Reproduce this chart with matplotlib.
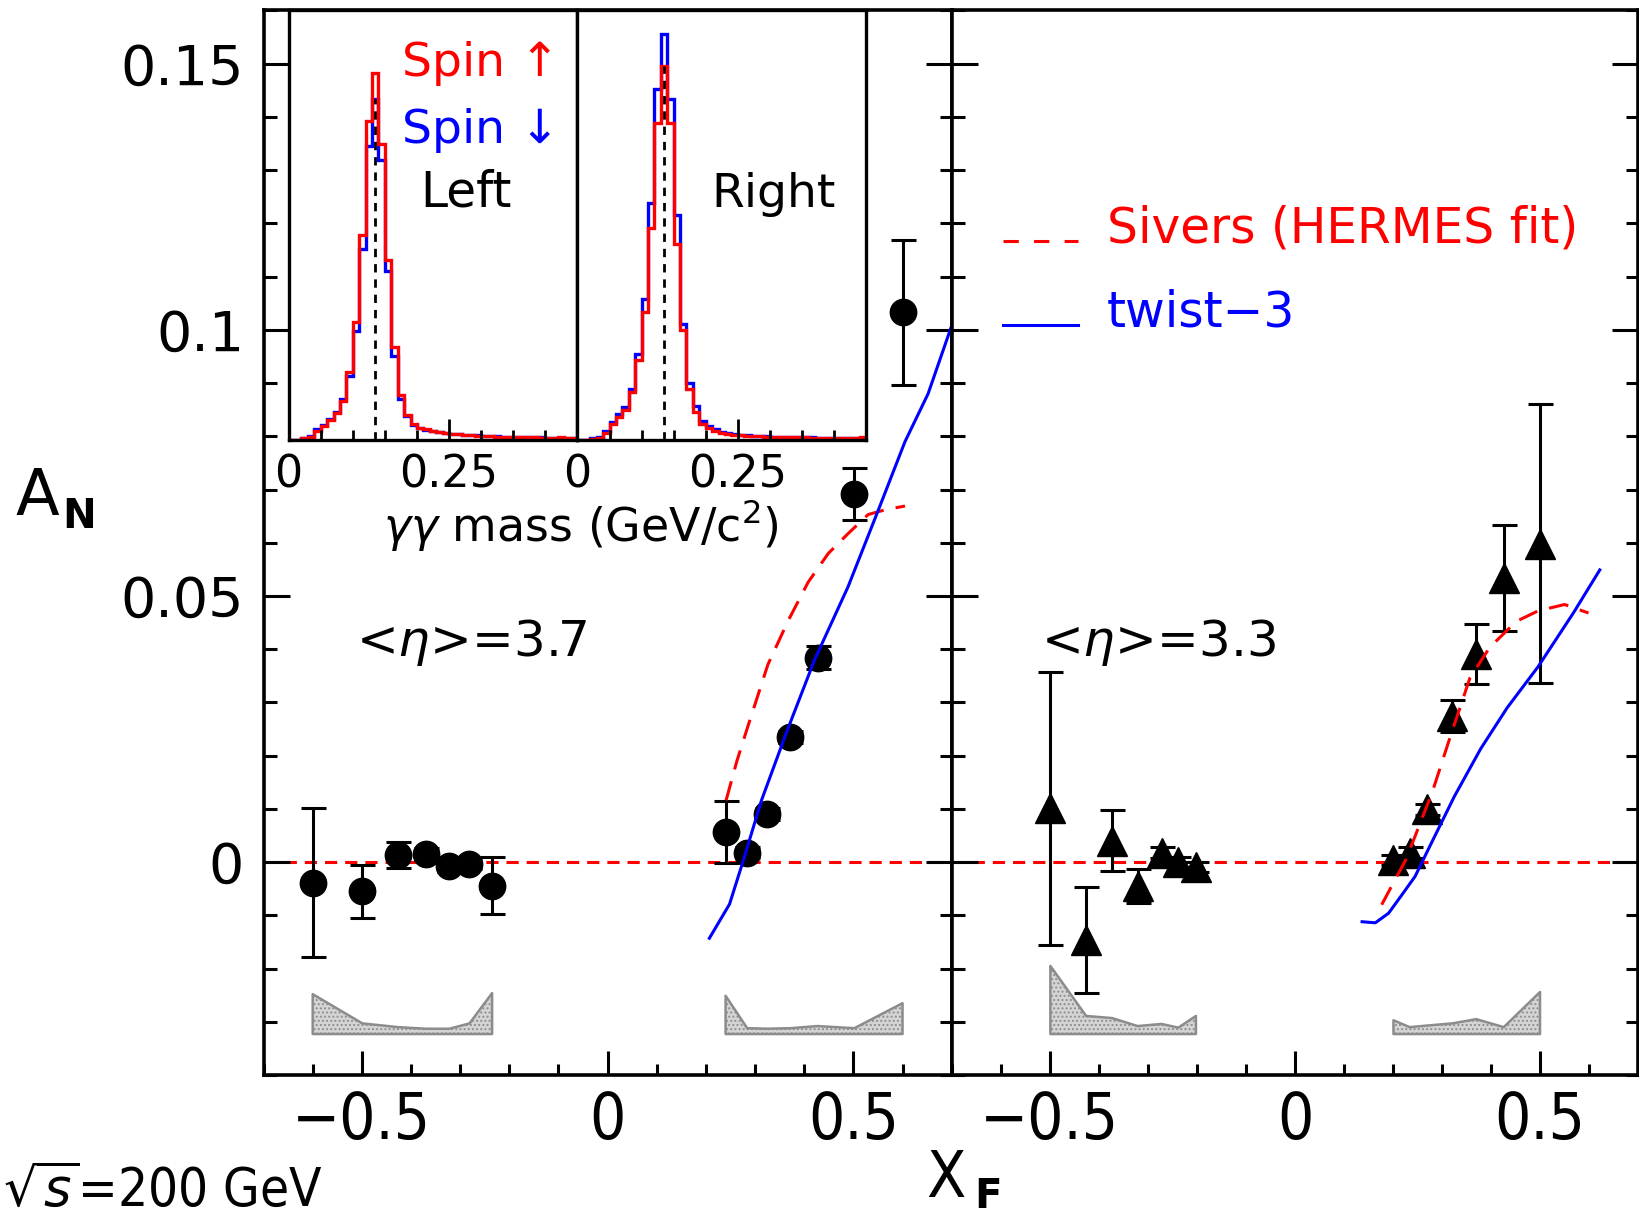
import numpy as np
import matplotlib.pyplot as plt
from matplotlib.ticker import MultipleLocator, FixedLocator
from matplotlib.legend_handler import HandlerLine2D

plt.rcParams['font.family'] = ['DejaVu Sans']
plt.rcParams['mathtext.fontset'] = 'dejavusans'
plt.rcParams['hatch.linewidth'] = 0.9
plt.rcParams['hatch.color'] = '#7f7f7f'

# ---- A_N vs x_F, <eta>=3.7 (circles)
xf_37 = [-0.600, -0.499, -0.426, -0.370, -0.322, -0.281, -0.235,
         0.240, 0.284, 0.325, 0.372, 0.427, 0.502, 0.600]
an_37 = [-0.0039, -0.0055, 0.0013, 0.0015, -0.0008, -0.0003, -0.0044,
         0.0056, 0.0018, 0.0090, 0.0235, 0.0384, 0.0691, 0.1033]
err_37 = [0.0140, 0.0050, 0.0024, 0.0011, 0.0010, 0.0010, 0.0054,
          0.0058, 0.0011, 0.0011, 0.0012, 0.0022, 0.0049, 0.0136]
syst_37 = [0.0075, 0.0020, 0.0013, 0.0010, 0.0010, 0.0020, 0.0077,
           0.0072, 0.0011, 0.0010, 0.0011, 0.0015, 0.0011, 0.0058]

# ---- A_N vs x_F, <eta>=3.3 (triangles)
xf_33 = [-0.499, -0.426, -0.373, -0.321, -0.272, -0.238, -0.202,
         0.201, 0.234, 0.270, 0.321, 0.370, 0.426, 0.500]
an_33 = [0.0101, -0.0146, 0.0040, -0.0045, 0.0018, 0.0000, -0.0009,
         0.0004, 0.0018, 0.0099, 0.0274, 0.0391, 0.0534, 0.0598]
err_33 = [0.0256, 0.0099, 0.0057, 0.0032, 0.0010, 0.0010, 0.0010,
          0.0010, 0.0010, 0.0010, 0.0030, 0.0057, 0.0100, 0.0262]
syst_33 = [0.0128, 0.0034, 0.0030, 0.0015, 0.0019, 0.0012, 0.0034,
           0.0026, 0.0013, 0.0016, 0.0020, 0.0028, 0.0013, 0.0079]
syst_base = -0.0323

# ---- theory curves
sivers_x_37 = [0.241, 0.263, 0.286, 0.326, 0.367, 0.408, 0.449, 0.489, 0.530, 0.565, 0.605]
sivers_y_37 = [0.0116, 0.0190, 0.0257, 0.0371, 0.0453, 0.0526, 0.0580, 0.0617, 0.0653, 0.0662, 0.0669]
twist_x_37 = [0.207, 0.248, 0.275, 0.313, 0.364, 0.421, 0.489, 0.551, 0.605, 0.652, 0.700]
twist_y_37 = [-0.0143, -0.0079, 0.0000, 0.0116, 0.0244, 0.0380, 0.0517, 0.0662, 0.0790, 0.0880, 0.1008]
sivers_x_33 = [0.177, 0.227, 0.280, 0.316, 0.357, 0.397, 0.451, 0.496, 0.550, 0.599]
sivers_y_33 = [-0.0080, 0.0006, 0.0131, 0.0233, 0.0346, 0.0403, 0.0452, 0.0472, 0.0484, 0.0468]
twist_x_33 = [0.137, 0.164, 0.191, 0.217, 0.245, 0.271, 0.325, 0.379, 0.433, 0.496, 0.568, 0.622]
twist_y_33 = [-0.0112, -0.0114, -0.0096, -0.0063, -0.0027, 0.0022, 0.0123, 0.0213, 0.0290, 0.0367, 0.0468, 0.0549]

# ---- inset: gamma-gamma mass histograms (arbitrary units), 0.01 GeV bins
mass_edges = np.linspace(0.0, 0.45, 46)
pi0_mass = 0.135
left_up = [0, 0, 0.004, 0.008, 0.021, 0.033, 0.046, 0.062, 0.091, 0.158,
           0.274, 0.477, 0.743, 0.855, 0.689, 0.419, 0.216, 0.104, 0.058, 0.037,
           0.029, 0.025, 0.021, 0.018, 0.016, 0.014, 0.013, 0.012, 0.011, 0.010,
           0.009, 0.009, 0.008, 0.008, 0.007, 0.007, 0.006, 0.006, 0.006, 0.005,
           0.005, 0.005, 0.006, 0.004, 0.004]
left_down = [0, 0, 0.005, 0.010, 0.025, 0.035, 0.048, 0.065, 0.095, 0.150,
             0.253, 0.444, 0.685, 0.793, 0.651, 0.394, 0.195, 0.095, 0.055, 0.035,
             0.028, 0.024, 0.021, 0.019, 0.017, 0.015, 0.014, 0.012, 0.011, 0.011,
             0.010, 0.009, 0.009, 0.008, 0.007, 0.007, 0.007, 0.006, 0.006, 0.006,
             0.005, 0.005, 0.005, 0.005, 0.004]
right_up = [0, 0, 0.002, 0.005, 0.017, 0.037, 0.054, 0.071, 0.112, 0.187,
            0.299, 0.494, 0.739, 0.871, 0.739, 0.456, 0.257, 0.120, 0.066, 0.037,
            0.029, 0.021, 0.017, 0.014, 0.012, 0.011, 0.010, 0.009, 0.009, 0.008,
            0.008, 0.007, 0.007, 0.006, 0.006, 0.006, 0.005, 0.005, 0.005, 0.005,
            0.004, 0.004, 0.004, 0.005, 0.006]
right_down = [0, 0, 0.004, 0.008, 0.022, 0.042, 0.060, 0.078, 0.120, 0.200,
              0.328, 0.552, 0.817, 0.946, 0.793, 0.523, 0.270, 0.133, 0.079, 0.045,
              0.033, 0.025, 0.019, 0.016, 0.014, 0.012, 0.011, 0.010, 0.009, 0.009,
              0.008, 0.008, 0.007, 0.007, 0.006, 0.006, 0.006, 0.005, 0.005, 0.005,
              0.005, 0.005, 0.004, 0.004, 0.004]

xticks_main = [-0.5, 0, 0.5]
xticklabels_main = ['\u22120.5', '0', '0.5']
yticks_main = [0, 0.05, 0.1, 0.15]
yticklabels_main = ['0', '0.05', '0.1', '0.15']


class BaselineHandler(HandlerLine2D):
    # put the legend key on the text baseline, ROOT style
    def create_artists(self, legend, orig_handle, xdescent, ydescent,
                       width, height, fontsize, trans):
        arts = super().create_artists(legend, orig_handle, xdescent, ydescent,
                                      width, height, fontsize, trans)
        for a in arts:
            a.set_ydata(np.asarray(a.get_ydata()) - 0.33 * fontsize)
        return arts


fig = plt.figure(figsize=(16.4, 12.19), dpi=100)
ax1 = fig.add_axes([0.1607, 0.1181, 0.4196, 0.8733])
ax2 = fig.add_axes([0.5804, 0.1181, 0.4184, 0.8733])

sivers_dash = (0, (6.5, 4))
for ax in (ax1, ax2):
    ax.set_xlim(-0.7, 0.7)
    ax.set_ylim(-0.04, 0.16)
    ax.axhline(0, color='red', lw=2.2, ls=(0, (4, 2.6)), zorder=1)
    for s in ax.spines.values():
        s.set_linewidth(2.6)
    ax.xaxis.set_major_locator(FixedLocator(xticks_main))
    ax.xaxis.set_minor_locator(MultipleLocator(0.1))
    ax.yaxis.set_major_locator(FixedLocator(yticks_main))
    ax.yaxis.set_minor_locator(MultipleLocator(0.01))
    ax.set_xticklabels(xticklabels_main, fontsize=46, fontstretch='condensed')
    ax.tick_params(axis='both', which='both', direction='in', top=False, right=True,
                   width=2.2)
    ax.tick_params(axis='x', which='major', length=17, pad=11)
    ax.tick_params(axis='x', which='minor', length=8)
    ax.tick_params(axis='y', which='major', length=19, pad=14)
    ax.tick_params(axis='y', which='minor', length=9)

ax1.set_yticklabels(yticklabels_main, fontsize=40)
ax2.set_yticklabels([])


def draw_panel(ax, xs, ys, es, syst, marker, ms, sx, sy, tx, ty):
    xs = np.asarray(xs)
    syst = np.asarray(syst)
    for sl in (slice(0, 7), slice(7, 14)):
        ax.fill_between(xs[sl], syst_base, syst_base + syst[sl],
                        facecolor='#d4d4d4', edgecolor='#8c8c8c',
                        hatch='....', lw=1.8, zorder=1.5)
    ax.errorbar(xs, ys, yerr=es, fmt=marker, color='black', ms=ms,
                elinewidth=2.2, capsize=9, capthick=2.2, zorder=3)
    l1, = ax.plot(sx, sy, color='red', lw=2.2, ls=sivers_dash, zorder=4)
    l2, = ax.plot(tx, ty, color='blue', lw=2.2, zorder=4)
    return l1, l2


draw_panel(ax1, xf_37, an_37, err_37, syst_37, 'o', 19,
           sivers_x_37, sivers_y_37, twist_x_37, twist_y_37)
h_siv, h_tw = draw_panel(ax2, xf_33, an_33, err_33, syst_33, '^', 21,
                         sivers_x_33, sivers_y_33, twist_x_33, twist_y_33)

ax1.text(-0.512, 0.0388, r'<$\eta$>=3.7', fontsize=36, va='baseline', ha='left')
ax2.text(-0.518, 0.0388, r'<$\eta$>=3.3', fontsize=36, va='baseline', ha='left')

leg = ax2.legend([h_siv, h_tw], ['Sivers (HERMES fit)', 'twist\u22123'],
                 loc='upper left', bbox_to_anchor=(0.074, 0.818), frameon=False,
                 fontsize=35, handlelength=1.56, handletextpad=0.58,
                 labelspacing=0.74, borderpad=0, borderaxespad=0,
                 labelcolor='linecolor',
                 handler_map={h_siv: BaselineHandler(), h_tw: BaselineHandler()})
leg.legend_handles[0].set_linestyle((0, (5, 5)))

# ---- inset
axi1 = fig.add_axes([0.1760, 0.639, 0.1760, 0.3524])
axi2 = fig.add_axes([0.3521, 0.639, 0.1760, 0.3524])
for axi, up, down in ((axi1, left_up, left_down), (axi2, right_up, right_down)):
    axi.set_facecolor('white')
    axi.stairs(down, mass_edges, color='blue', lw=2.4)
    axi.stairs(up, mass_edges, color='red', lw=2.4)
    axi.vlines(pi0_mass, 0, min(max(up), max(down)), colors='black',
               linestyles=(0, (3, 2.5)), lw=2)
    axi.set_xlim(0, 0.45)
    axi.set_ylim(0, 1)
    axi.set_yticks([])
    axi.set_xticks([0, 0.25])
    axi.set_xticklabels(['0', '0.25'], fontsize=32)
    axi.xaxis.set_minor_locator(MultipleLocator(0.05))
    axi.tick_params(axis='x', which='both', direction='in', width=2, pad=10)
    axi.tick_params(axis='x', which='major', length=15)
    axi.tick_params(axis='x', which='minor', length=7)
    for s in axi.spines.values():
        s.set_linewidth(2.4)

axi1.text(0.94, 0.848, 'Spin \u2191', color='red', fontsize=34, ha='right',
          va='baseline', transform=axi1.transAxes)
axi1.text(0.94, 0.692, 'Spin \u2193', color='blue', fontsize=34, ha='right',
          va='baseline', transform=axi1.transAxes)
axi1.text(0.774, 0.543, 'Left', fontsize=35, ha='right', va='baseline',
          transform=axi1.transAxes)
axi2.text(0.463, 0.543, 'Right', fontsize=34, ha='left', va='baseline',
          transform=axi2.transAxes)
fig.text(0.354, 0.556, r'$\gamma\gamma$ mass (GeV/c$^2$)', fontsize=33,
         ha='center', va='baseline')

# ---- axis titles
fig.text(0.0096, 0.5775, 'A', fontsize=46, va='baseline', ha='left')
fig.text(0.038, 0.567, 'N', fontsize=29, fontweight='bold', va='baseline', ha='left')
fig.text(0.5646, 0.018, 'X', fontsize=46, fontstretch='condensed',
         va='baseline', ha='left')
fig.text(0.594, 0.002, 'F', fontsize=29, fontweight='bold', va='bottom', ha='left')
fig.text(0.002, 0.002, r'$\sqrt{s}$=200 GeV', fontsize=38, fontstretch='condensed',
         va='bottom', ha='left')

fig.savefig('out.png', dpi=100)
